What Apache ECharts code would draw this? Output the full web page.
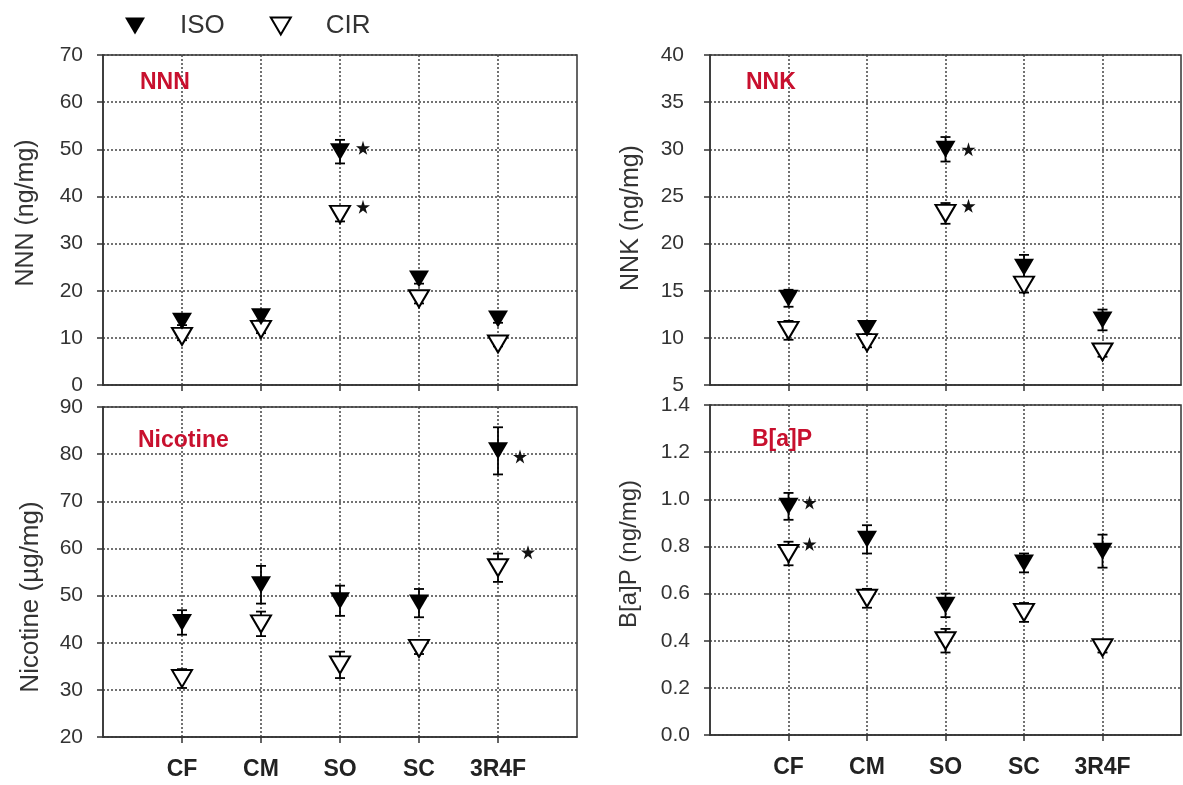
<!DOCTYPE html>
<html><head><meta charset="utf-8">
<script src="https://cdn.jsdelivr.net/npm/echarts@6/dist/echarts.min.js"></script>
<style>html,body{margin:0;padding:0;background:#fff}#c{width:1183px;height:785px}</style>
</head><body><div id="c"></div>
<script>
// ---------------- data ----------------
const categories = ['CF', 'CM', 'SO', 'SC', '3R4F'];
const seriesNames = ['ISO', 'CIR'];

// NNN (ng/mg)
const nnnIso   = [13.5, 14.5, 49.5, 22.5, 14.0];
const nnnIsoSd = [0.8, 0.8, 2.5, 1.0, 0.8];
const nnnCir   = [10.3, 11.8, 36.2, 18.3, 8.7];
const nnnCirSd = [0.8, 0.8, 1.5, 1.0, 0.5];
const nnnStars = [[3, 50.3], [3, 37.8]];

// NNK (ng/mg)
const nnkIso   = [14.2, 11.0, 30.0, 17.5, 11.9];
const nnkIsoSd = [0.9, 0.6, 1.3, 1.3, 1.1];
const nnkCir   = [10.8, 9.5, 23.2, 15.6, 8.5];
const nnkCirSd = [1.0, 0.5, 1.1, 0.8, 0.5];
const nnkStars = [[3, 30.0], [3, 24.0]];

// Nicotine (µg/mg)
const nicIso   = [44.3, 52.3, 48.9, 48.4, 80.7];
const nicIsoSd = [2.6, 4.0, 3.2, 3.0, 5.0];
const nicCir   = [32.4, 44.0, 35.3, 38.8, 55.9];
const nicCirSd = [2.0, 2.6, 2.8, 1.2, 3.0];
const nicStars = [[5, 79.5], [5, 59.2]];

// B[a]P (ng/mg)
const bapIso   = [0.97, 0.83, 0.55, 0.73, 0.78];
const bapIsoSd = [0.057, 0.06, 0.05, 0.04, 0.07];
const bapCir   = [0.77, 0.58, 0.40, 0.52, 0.37];
const bapCirSd = [0.05, 0.04, 0.05, 0.04, 0.02];
const bapStars = [[1, 0.986], [1, 0.81]];

// y-axis scales [min, max, interval]
const nnnTicks = [0, 70, 10];
const nnkTicks = [5, 40, 5];
const nicTicks = [20, 90, 10];
const bapTicks = [0, 1.4, 0.2];

// ---------------- layout / style ----------------
const FONT = '"Liberation Sans", Arial, sans-serif';
const TRI = 'path://M0,0 L20,0 L10,17 Z';
const STAR = 'path://M50,0 L61,35 L98,35 L68,57 L79,91 L50,70 L21,91 L32,57 L2,35 L39,35 Z';
const RED = '#c8102e';
const AX = '#333';

const panels = [
  { title: 'NNN', axisName: 'NNN (ng/mg)', ticks: nnnTicks, iso: nnnIso, isoSd: nnnIsoSd, cir: nnnCir, cirSd: nnnCirSd, stars: nnnStars,
    grid: { left: 103, top: 55, width: 474, height: 330 }, showX: false, nameGap: 64, nameSize: 25, namePad: [0, 0, 0, 14], labelMargin: 20,
    titlePos: { left: 140, top: 71 }, starOff: [23, 23], fmt: v => String(v) },
  { title: 'NNK', axisName: 'NNK (ng/mg)', ticks: nnkTicks, iso: nnkIso, isoSd: nnkIsoSd, cir: nnkCir, cirSd: nnkCirSd, stars: nnkStars,
    grid: { left: 710, top: 55, width: 471, height: 330 }, showX: false, nameGap: 66, nameSize: 25, namePad: [0, 0, 0, 4], labelMargin: 26,
    titlePos: { left: 746, top: 71 }, starOff: [23, 23], fmt: v => String(v) },
  { title: 'Nicotine', axisName: 'Nicotine (µg/mg)', ticks: nicTicks, iso: nicIso, isoSd: nicIsoSd, cir: nicCir, cirSd: nicCirSd, stars: nicStars,
    grid: { left: 103, top: 407, width: 474, height: 330 }, showX: true, nameGap: 59, nameSize: 26, namePad: [0, 50, 0, 0], labelMargin: 20,
    titlePos: { left: 138, top: 429 }, starOff: [22, 30], fmt: v => String(v) },
  { title: 'B[a]P', axisName: 'B[a]P (ng/mg)', ticks: bapTicks, iso: bapIso, isoSd: bapIsoSd, cir: bapCir, cirSd: bapCirSd, stars: bapStars,
    grid: { left: 710, top: 405, width: 471, height: 330 }, showX: true, nameGap: 69, nameSize: 24, namePad: [0, 0, 0, 32], labelMargin: 20,
    titlePos: { left: 752, top: 428 }, starOff: [21, 21], fmt: v => v.toFixed(1) }
];

const gridLine = { show: true, lineStyle: { color: '#444', width: 1.5, type: [2, 2] } };

function errRender(params, api) {
  const x = api.value(0), lo = api.value(1), hi = api.value(2);
  const a = api.coord([x, lo]), b = api.coord([x, hi]);
  const w = 5, st = { stroke: '#000', lineWidth: 1.8 };
  return { type: 'group', children: [
    { type: 'line', shape: { x1: a[0], y1: a[1], x2: b[0], y2: b[1] }, style: st },
    { type: 'line', shape: { x1: b[0] - w, y1: b[1], x2: b[0] + w, y2: b[1] }, style: st },
    { type: 'line', shape: { x1: a[0] - w, y1: a[1], x2: a[0] + w, y2: a[1] }, style: st }
  ]};
}

const grids = [], xAxes = [], yAxes = [], series = [], titles = [];
panels.forEach((p, k) => {
  grids.push(Object.assign({ show: true, borderColor: AX, borderWidth: 1.5, backgroundColor: 'transparent' }, p.grid));
  xAxes.push({
    type: 'value', gridIndex: k, min: 0, max: 6, interval: 1,
    axisLine: { show: true, lineStyle: { color: AX, width: 1.5 } },
    axisTick: { show: true, inside: false, length: 6, customValues: [1, 2, 3, 4, 5], lineStyle: { color: AX, width: 1.5 } },
    axisLabel: { show: p.showX, customValues: [1, 2, 3, 4, 5], margin: 21,
      formatter: v => (v >= 1 && v <= 5 ? categories[v - 1] : ''),
      color: '#222', fontSize: 23, fontWeight: 'bold', fontFamily: FONT },
    splitLine: gridLine
  });
  yAxes.push({
    type: 'value', gridIndex: k, min: p.ticks[0], max: p.ticks[1], interval: p.ticks[2],
    name: p.axisName, nameLocation: 'middle', nameGap: p.nameGap,
    nameTextStyle: { color: '#333', fontSize: p.nameSize, fontFamily: FONT, padding: p.namePad },
    axisLine: { show: true, lineStyle: { color: AX, width: 1.5 } },
    axisTick: { show: true, inside: false, length: 6, lineStyle: { color: AX, width: 1.5 } },
    axisLabel: { color: '#333', fontSize: 21, fontFamily: FONT, margin: p.labelMargin, formatter: p.fmt },
    splitLine: gridLine
  });
  titles.push({ text: p.title, left: p.titlePos.left, top: p.titlePos.top, padding: 0,
    textStyle: { color: RED, fontSize: 23, fontWeight: 'bold', fontFamily: FONT } });

  const errData = (m, s) => categories.map((c, i) => [i + 1, m[i] - s[i], m[i] + s[i]]);
  series.push({ type: 'custom', name: 'errCIR', xAxisIndex: k, yAxisIndex: k, renderItem: errRender,
    encode: { x: 0, y: [1, 2] }, data: errData(p.cir, p.cirSd), z: 2, silent: true });
  series.push({ type: 'custom', name: 'errISO', xAxisIndex: k, yAxisIndex: k, renderItem: errRender,
    encode: { x: 0, y: [1, 2] }, data: errData(p.iso, p.isoSd), z: 2, silent: true });
  series.push({ type: 'scatter', name: 'CIR', xAxisIndex: k, yAxisIndex: k, symbol: TRI, symbolSize: [20, 17],
    itemStyle: { color: '#fff', borderColor: '#000', borderWidth: 2, opacity: 1 }, z: 3,
    data: categories.map((c, i) => [i + 1, p.cir[i]]) });
  series.push({ type: 'scatter', name: 'ISO', xAxisIndex: k, yAxisIndex: k, symbol: TRI, symbolSize: [20, 17],
    itemStyle: { color: '#000', opacity: 1 }, z: 4,
    data: categories.map((c, i) => [i + 1, p.iso[i]]) });
  series.push({ type: 'scatter', name: 'star', xAxisIndex: k, yAxisIndex: k, symbol: STAR, symbolSize: 14,
    itemStyle: { color: '#111', opacity: 1 }, z: 4,
    data: p.stars.map((s, j) => ({ value: s, symbolOffset: [p.starOff[j], 0] })) });
});

const chart = echarts.init(document.getElementById('c'), null, { renderer: 'canvas' });
chart.setOption({
  animation: false,
  backgroundColor: '#fff',
  title: titles,
  legend: {
    data: [{ name: 'ISO', icon: TRI }, { name: 'CIR', icon: TRI }],
    left: 120, top: 8, itemWidth: 20, itemHeight: 17, itemGap: 45,
    textStyle: { color: '#333', fontSize: 26, fontFamily: FONT, padding: [0, 0, 0, 30] }
  },
  grid: grids, xAxis: xAxes, yAxis: yAxes, series: series
});
</script></body></html>
